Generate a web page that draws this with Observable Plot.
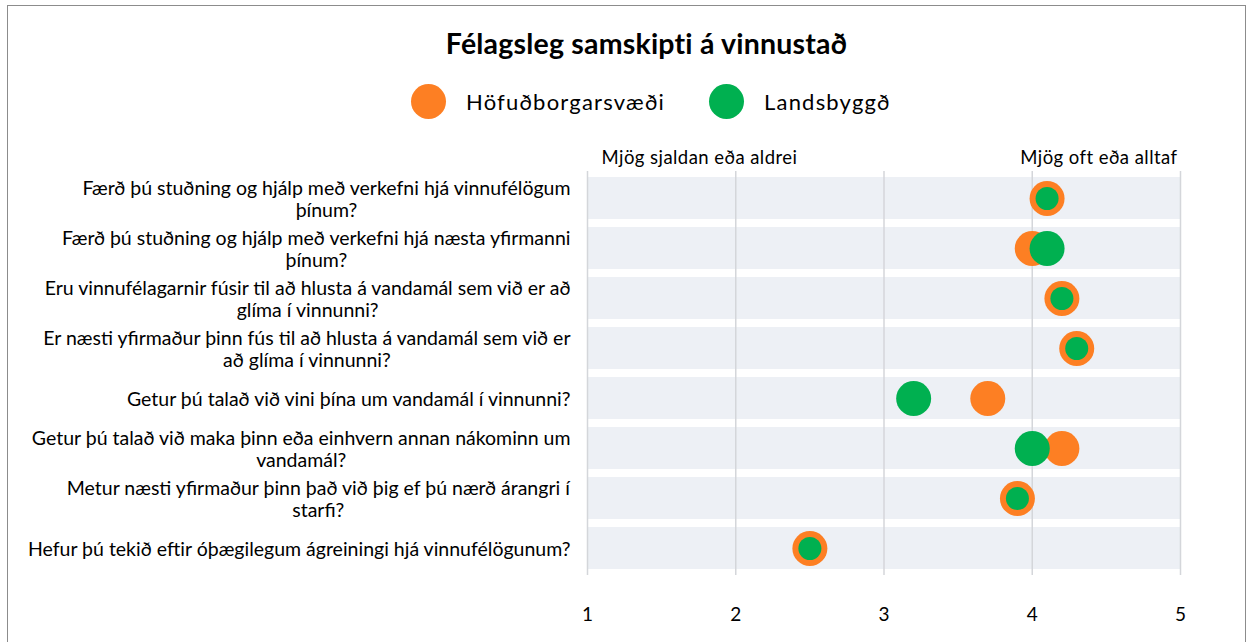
<!DOCTYPE html>
<html>
<head>
<meta charset="utf-8">
<script src="https://cdn.jsdelivr.net/npm/d3@7"></script>
<script src="https://cdn.jsdelivr.net/npm/@observablehq/plot@0.6"></script>
<style>
  html, body { margin: 0; padding: 0; background: #fff; }
  body { width: 1247px; height: 642px; overflow: hidden; position: relative; font-family: Lato, "Open Sans", sans-serif; color: #000; }
  #frame { position: absolute; left: 7px; top: 5px; width: 1239px; height: 660px; border: 1px solid #8c8c8c; box-sizing: border-box; }
  #title { position: absolute; left: 46px; width: 1201px; top: 26px; text-align: center; font-weight: bold; font-size: 28.5px; letter-spacing: 0.2px; }
  .leg { position: absolute; top: 84px; height: 35px; display: flex; align-items: center; font-size: 22px; letter-spacing: 1.2px; }
  .leg span.sw { display: inline-block; width: 35px; height: 35px; border-radius: 50%; margin-right: 20px; }
  #chart { position: absolute; left: 0; top: 0; }
</style>
</head>
<body>
<div id="frame"></div>
<div id="title">Félagsleg samskipti á vinnustað</div>
<div class="leg" style="left:411px"><span class="sw" style="background:#fd7f23"></span><span id="l1"></span></div>
<div class="leg" style="left:709px"><span class="sw" style="background:#00b050"></span><span id="l2"></span></div>
<div id="chart"></div>
<script>
const categories = [
  "Færð þú stuðning og hjálp með verkefni hjá vinnufélögum\nþínum?",
  "Færð þú stuðning og hjálp með verkefni hjá næsta yfirmanni\nþínum?",
  "Eru vinnufélagarnir fúsir til að hlusta á vandamál sem við er að\nglíma í vinnunni?",
  "Er næsti yfirmaður þinn fús til að hlusta á vandamál sem við er\nað glíma í vinnunni?",
  "Getur þú talað við vini þína um vandamál í vinnunni?",
  "Getur þú talað við maka þinn eða einhvern annan nákominn um\nvandamál?",
  "Metur næsti yfirmaður þinn það við þig ef þú nærð árangri í\nstarfi?",
  "Hefur þú tekið eftir óþægilegum ágreiningi hjá vinnufélögunum?"
];
const seriesNames = ["Höfuðborgarsvæði", "Landsbyggð"];
const hofudborg = [4.1, 4.0, 4.2, 4.3, 3.7, 4.2, 3.9, 2.5];
const landsbyggd = [4.1, 4.1, 4.2, 4.3, 3.2, 4.0, 3.9, 2.5];
const xTicks = [1, 2, 3, 4, 5];
const lowLabel = {x: 1, label: "Mjög sjaldan eða aldrei"};
const highLabel = {x: 5, label: "Mjög oft eða alltaf"};
const colors = ["#fd7f23", "#00b050"];

document.getElementById("l1").textContent = seriesNames[0];
document.getElementById("l2").textContent = seriesNames[1];

const rows = categories.map((c, i) => ({cat: c, o: hofudborg[i], g: landsbyggd[i]}));

const plot = Plot.plot({
  width: 1247,
  height: 642,
  marginLeft: 587,
  marginRight: 67,
  marginTop: 166,
  marginBottom: 62,
  style: {fontFamily: "Lato, 'Open Sans', sans-serif", color: "#000", background: "transparent"},
  x: {domain: [1, 5], ticks: xTicks, tickFormat: d3.format("d")},
  y: {domain: categories, padding: 0.17},
  r: {type: "identity"},
  marks: [
    Plot.barX(categories, {x1: 1, x2: 5, y: d => d, fill: "#edf0f5"}),
    Plot.ruleX(xTicks, {stroke: "#d4d6da", strokeWidth: 1.5, insetTop: 5, insetBottom: 5}),
    Plot.dot(rows, {x: "o", y: "cat", r: 17.5, fill: colors[0]}),
    Plot.dot(rows, {x: "g", y: "cat", r: d => d.g === d.o ? 11.5 : 17.5, fill: colors[1]}),
    Plot.axisX({ticks: xTicks, tickFormat: d3.format("d"), tickSize: 0, tickPadding: 27, fontSize: 19, label: null}),
    Plot.axisY({tickSize: 0, tickPadding: 17, fontSize: 19.5, lineHeight: 1.13, label: null}),
    Plot.text([lowLabel], {x: "x", text: "label", textAnchor: "start", lineAnchor: "middle", frameAnchor: "top", dy: -8, dx: 14, fontSize: 18.5}),
    Plot.text([highLabel], {x: "x", text: "label", textAnchor: "end", lineAnchor: "middle", frameAnchor: "top", dy: -8, dx: -3, fontSize: 18.5})
  ]
});
document.getElementById("chart").appendChild(plot);

plot.querySelectorAll('g[aria-label="text"]').forEach(g => g.setAttribute("letter-spacing", "0.45"));
// center each line of a multi-line y label within its right-aligned block
const yLab = plot.querySelector('g[aria-label="y-axis tick label"]');
yLab.querySelectorAll("text").forEach(t => {
  const spans = Array.from(t.querySelectorAll("tspan"));
  if (spans.length < 2) return;
  t.setAttribute("text-anchor", "middle");
  spans.forEach(s => s.setAttribute("x", 0));
  const W = t.getBBox().width;
  spans.forEach(s => s.setAttribute("x", -W / 2));
});
</script>
</body>
</html>
